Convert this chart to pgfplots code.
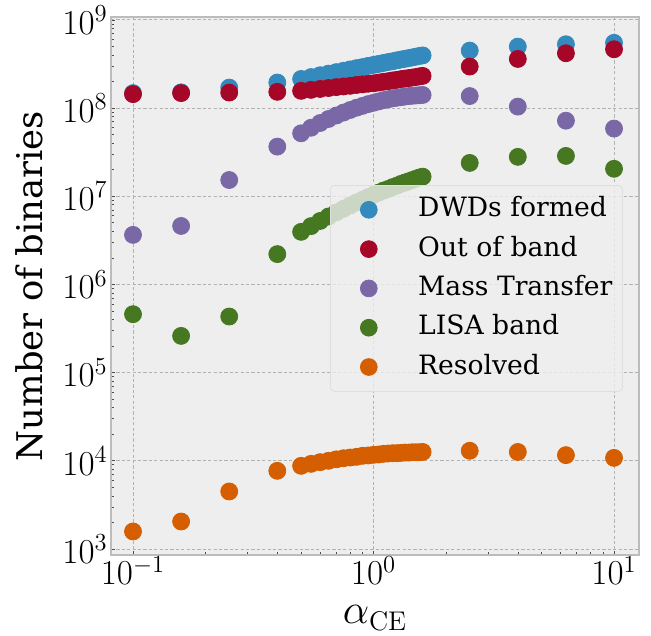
\RequirePackage{fix-cm}
\documentclass[border=0pt]{standalone}
\usepackage[no-math]{fontspec}
\setmainfont{DejaVu Serif}
\usepackage{pgfplots}
\pgfplotsset{compat=1.18}
\definecolor{bmhbg}{HTML}{EEEEEE}
\definecolor{bmhedge}{HTML}{BCBCBC}
\definecolor{bmhgrid}{HTML}{B2B2B2}
\definecolor{cblue}{HTML}{348ABD}
\definecolor{cred}{HTML}{A60628}
\definecolor{cpurple}{HTML}{7A68A6}
\definecolor{cgreen}{HTML}{467821}
\definecolor{corange}{HTML}{D55E00}
\begin{document}
\begin{tikzpicture}
\begin{loglogaxis}[
  scale only axis,
  width=264pt, height=269pt,
  xmin=0.081, xmax=12.7,
  ymin=855, ymax=1.08e9,
  axis background/.style={fill=bmhbg},
  axis line style={bmhedge, line width=0.6pt},
  xtick pos=bottom, ytick pos=left,
  tick align=inside,
  major tick length=2.2pt, minor tick length=1.3pt,
  tick style={black!70, line width=0.4pt},
  grid=major,
  major grid style={bmhgrid, dash pattern=on 1.6pt off 1.1pt, line width=0.45pt},
  xtick={0.1,1,10},
  ytick={1e3,1e4,1e5,1e6,1e7,1e8,1e9},
  tick label style={font=\fontsize{17.5}{19}\selectfont},
  xticklabel style={inner sep=0.5pt, yshift=0pt},
  yticklabel style={inner sep=1.5pt},
  xlabel={$\alpha_{\hbox{\fontsize{13.5}{14}\selectfont$\mathrm{CE}$}}$},
  ylabel={Number of binaries},
  ylabel style={font=\fontsize{17.7}{20}\selectfont, at={(axis description cs:-0.129,0.5)}, anchor=base},
  xlabel style={font=\fontsize{21}{22}\selectfont, inner sep=0pt, at={(axis description cs:0.5,0)}, anchor=base, yshift=-34.5pt},
  legend cell align=left,
  legend image code/.code={\path (-14pt,0pt); \fill[#1, fill opacity=1] (0pt,0pt) circle (4.2pt);},
  legend style={
    at={(axis description cs:0.4148,0.6877)}, anchor=north west,
    fill=bmhbg, fill opacity=0.8, text opacity=1,
    draw=black!13, rounded corners=2pt,
    inner xsep=5pt, inner ysep=5.7pt,
    font=\fontsize{13.3}{16}\selectfont,
    nodes={inner sep=0pt, text height=10pt, text depth=3pt},
    row sep=6.65pt,
    /tikz/every odd column/.append style={column sep=20.3pt},
  },
  every axis plot/.append style={only marks, mark=*, mark size=4.25pt},
]
% DWDs formed
\addplot[color=cblue, mark options={draw=cblue, fill=cblue}] coordinates {
(0.1,1.48e8) (0.1585,1.51e8) (0.2512,1.71e8) (0.3981,1.95e8)
(0.50,2.14e8) (0.55,2.25e8) (0.60,2.36e8) (0.65,2.46e8) (0.70,2.56e8) (0.75,2.65e8)
(0.80,2.75e8) (0.85,2.84e8) (0.90,2.92e8) (0.95,3.01e8) (1.00,3.09e8) (1.05,3.17e8)
(1.10,3.25e8) (1.15,3.33e8) (1.20,3.40e8) (1.25,3.48e8) (1.30,3.55e8) (1.35,3.62e8)
(1.40,3.69e8) (1.45,3.76e8) (1.50,3.83e8) (1.55,3.90e8) (1.60,3.96e8)
(2.512,4.49e8) (3.981,4.98e8) (6.310,5.30e8) (10,5.50e8)
};
\addlegendentry{DWDs formed}
% Out of band
\addplot[color=cred, mark options={draw=cred, fill=cred}] coordinates {
(0.1,1.44e8) (0.1585,1.48e8) (0.2512,1.50e8) (0.3981,1.53e8)
(0.50,1.57e8) (0.55,1.61e8) (0.60,1.65e8) (0.65,1.69e8) (0.70,1.73e8) (0.75,1.76e8)
(0.80,1.79e8) (0.85,1.83e8) (0.90,1.86e8) (0.95,1.89e8) (1.00,1.91e8) (1.05,1.95e8)
(1.10,1.99e8) (1.15,2.02e8) (1.20,2.06e8) (1.25,2.09e8) (1.30,2.13e8) (1.35,2.16e8)
(1.40,2.19e8) (1.45,2.22e8) (1.50,2.25e8) (1.55,2.29e8) (1.60,2.32e8)
(2.512,2.96e8) (3.981,3.61e8) (6.310,4.19e8) (10,4.65e8)
};
\addlegendentry{Out of band}
% Mass Transfer
\addplot[color=cpurple, mark options={draw=cpurple, fill=cpurple}] coordinates {
(0.1,3.65e6) (0.1585,4.61e6) (0.2512,1.53e7) (0.3981,3.66e7)
(0.50,5.18e7) (0.55,5.99e7) (0.60,6.78e7) (0.65,7.53e7) (0.70,8.24e7) (0.75,8.90e7)
(0.80,9.52e7) (0.85,1.01e8) (0.90,1.06e8) (0.95,1.11e8) (1.00,1.15e8) (1.05,1.19e8)
(1.10,1.23e8) (1.15,1.26e8) (1.20,1.29e8) (1.25,1.31e8) (1.30,1.33e8) (1.35,1.35e8)
(1.40,1.37e8) (1.45,1.38e8) (1.50,1.39e8) (1.55,1.40e8) (1.60,1.41e8)
(2.512,1.37e8) (3.981,1.04e8) (6.310,7.20e7) (10,5.86e7)
};
\addlegendentry{Mass Transfer}
% LISA band
\addplot[color=cgreen, mark options={draw=cgreen, fill=cgreen}] coordinates {
(0.1,4.60e5) (0.1585,2.61e5) (0.2512,4.33e5) (0.3981,2.21e6)
(0.50,3.95e6) (0.55,4.59e6) (0.60,5.25e6) (0.65,5.90e6) (0.70,6.56e6) (0.75,7.21e6)
(0.80,7.87e6) (0.85,8.51e6) (0.90,9.14e6) (0.95,9.77e6) (1.00,1.04e7) (1.05,1.10e7)
(1.10,1.16e7) (1.15,1.21e7) (1.20,1.27e7) (1.25,1.32e7) (1.30,1.38e7) (1.35,1.43e7)
(1.40,1.48e7) (1.45,1.53e7) (1.50,1.58e7) (1.55,1.63e7) (1.60,1.67e7)
(2.512,2.39e7) (3.981,2.80e7) (6.310,2.87e7) (10,2.05e7)
};
\addlegendentry{LISA band}
% Resolved
\addplot[color=corange, mark options={draw=corange, fill=corange}] coordinates {
(0.1,1.58e3) (0.1585,2.05e3) (0.2512,4.49e3) (0.3981,7.70e3)
(0.50,8.77e3) (0.55,9.24e3) (0.60,9.66e3) (0.65,1.00e4) (0.70,1.04e4) (0.75,1.07e4)
(0.80,1.09e4) (0.85,1.11e4) (0.90,1.14e4) (0.95,1.15e4) (1.00,1.17e4) (1.05,1.18e4)
(1.10,1.20e4) (1.15,1.21e4) (1.20,1.22e4) (1.25,1.22e4) (1.30,1.23e4) (1.35,1.24e4)
(1.40,1.24e4) (1.45,1.25e4) (1.50,1.25e4) (1.55,1.25e4) (1.60,1.26e4)
(2.512,1.30e4) (3.981,1.26e4) (6.310,1.16e4) (10,1.08e4)
};
\addlegendentry{Resolved}
\end{loglogaxis}
\pgfresetboundingbox
\path (-55.5pt,-40pt) rectangle (270pt,277.5pt);
\end{tikzpicture}
\end{document}
